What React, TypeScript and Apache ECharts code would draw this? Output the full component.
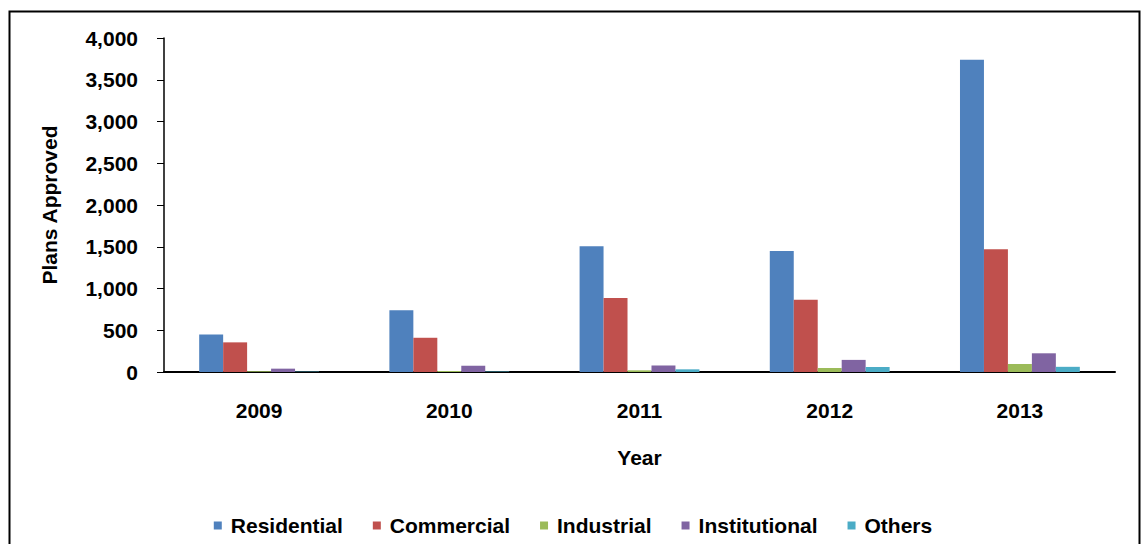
import React, { useEffect, useRef } from "react";
import * as echarts from "echarts";

const years = ["2009", "2010", "2011", "2012", "2013"];
const residential = [450, 740, 1505, 1450, 3740];
const commercial = [355, 410, 885, 865, 1470];
const industrial = [10, 12, 20, 48, 96];
const institutional = [40, 75, 78, 145, 224];
const others = [5, 6, 32, 60, 62];
const yTicks = [0, 500, 1000, 1500, 2000, 2500, 3000, 3500, 4000];

const seriesDefs = [
  { name: "Residential", data: residential, color: "#4F81BD" },
  { name: "Commercial", data: commercial, color: "#C0504D" },
  { name: "Industrial", data: industrial, color: "#9BBB59" },
  { name: "Institutional", data: institutional, color: "#8064A2" },
  { name: "Others", data: others, color: "#4BACC6" },
];

const FONT = "'Liberation Sans', Arial, sans-serif";
const FS = 21;

export default function App() {
  const ref = useRef<HTMLDivElement>(null);
  useEffect(() => {
    document.body.style.margin = "0";
    const chart = echarts.init(ref.current!, null, { renderer: "svg" });
    chart.setOption({
      animation: false,
      backgroundColor: "#fff",
      graphic: [
        {
          type: "rect",
          shape: { x: 9.5, y: 11.5, width: 1130, height: 560 },
          style: { fill: "none", stroke: "#000", lineWidth: 2 },
          silent: true,
        },
      ],
      grid: { left: 164, right: 31, top: 38, bottom: 172 },
      legend: {
        bottom: 3,
        left: "center",
        itemWidth: 8,
        itemHeight: 8,
        itemGap: 30,
        icon: "rect",
        textStyle: { fontFamily: FONT, fontWeight: "bold", fontSize: FS, color: "#000", padding: [0, 0, 0, 4] },
        data: seriesDefs.map((s) => s.name),
      },
      xAxis: {
        type: "category",
        data: years,
        name: "Year",
        nameLocation: "middle",
        nameGap: 75,
        nameTextStyle: { fontFamily: FONT, fontWeight: "bold", fontSize: FS, color: "#000" },
        axisLine: { lineStyle: { color: "#000", width: 2 } },
        axisTick: { show: false },
        axisLabel: { fontFamily: FONT, fontWeight: "bold", fontSize: FS, color: "#000", margin: 28 },
      },
      yAxis: {
        type: "value",
        min: yTicks[0],
        max: yTicks[yTicks.length - 1],
        interval: 500,
        name: "Plans Approved",
        nameLocation: "middle",
        nameGap: 104,
        nameTextStyle: { fontFamily: FONT, fontWeight: "bold", fontSize: FS, color: "#000" },
        axisLine: { show: true, lineStyle: { color: "#000", width: 1.5 } },
        axisTick: { show: true, inside: false, length: 7, lineStyle: { color: "#000" } },
        splitLine: { show: false },
        axisLabel: {
          fontFamily: FONT,
          fontWeight: "bold",
          fontSize: FS,
          color: "#000",
          margin: 26,
          formatter: (v: number) => v.toLocaleString("en-US"),
        },
      },
      series: seriesDefs.map((s) => ({
        name: s.name,
        type: "bar",
        data: s.data,
        barGap: "0%",
        barCategoryGap: "37%",
        itemStyle: { color: s.color },
      })),
    });
    return () => chart.dispose();
  }, []);
  return <div ref={ref} style={{ width: 1146, height: 544 }} />;
}
